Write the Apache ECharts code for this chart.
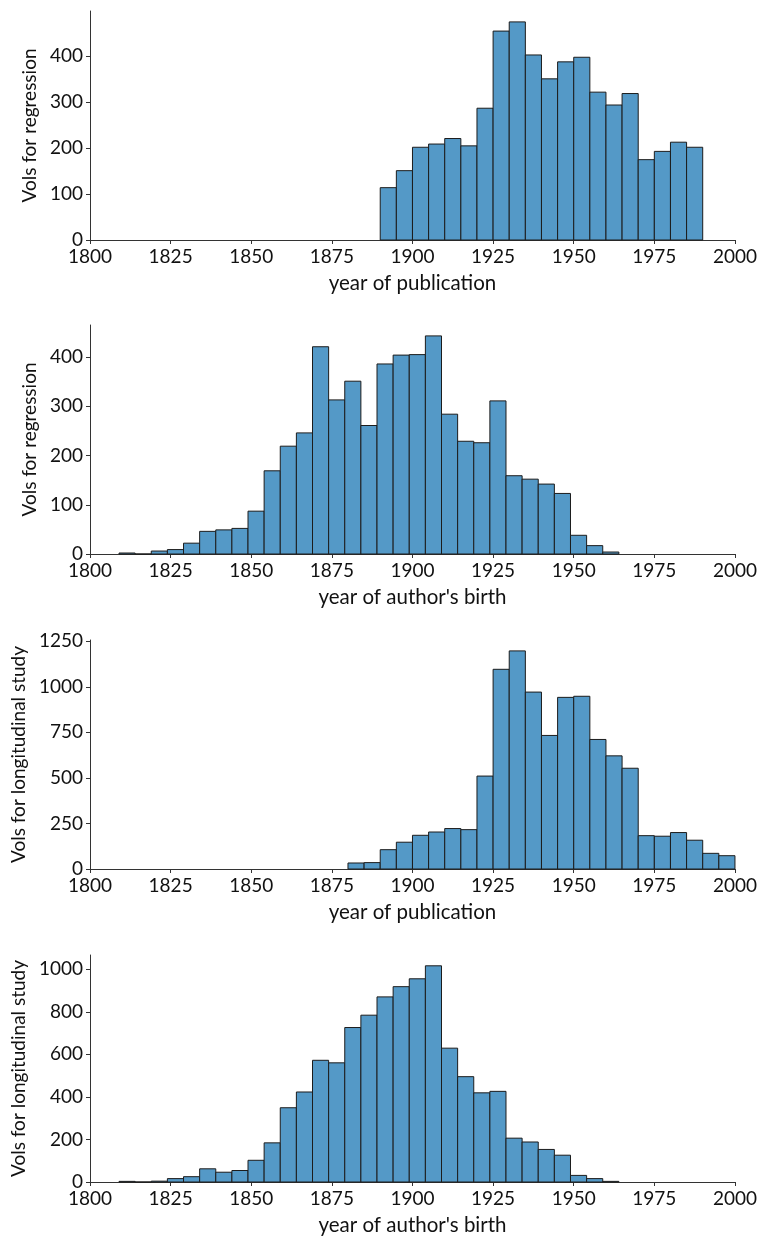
<!DOCTYPE html>
<html>
<head>
<meta charset="utf-8">
<script src="https://cdn.jsdelivr.net/npm/echarts@6/dist/echarts.min.js"></script>
<style>
  html, body { margin: 0; padding: 0; background: #fff; }
  #chart { width: 760px; height: 1237px; }
</style>
</head>
<body>
<div id="chart"></div>
<script>
// ---- data ----
const binWidth = 5;
const xTicks = [1800, 1825, 1850, 1875, 1900, 1925, 1950, 1975, 2000];

// Panel 1: year of publication (regression)
const pubRegBins = [1890,1895,1900,1905,1910,1915,1920,1925,1930,1935,1940,1945,1950,1955,1960,1965,1970,1975,1980,1985];
const pubRegCounts = [114,151,202,209,221,205,287,455,475,403,351,388,398,322,294,319,175,193,213,202];
const pubRegYTicks = [0,100,200,300,400];

// Panel 2: year of author's birth (regression)
const birthRegBins = [1809,1814,1819,1824,1829,1834,1839,1844,1849,1854,1859,1864,1869,1874,1879,1884,1889,1894,1899,1904,1909,1914,1919,1924,1929,1934,1939,1944,1949,1954,1959];
const birthRegCounts = [2,0,6,9,22,46,49,52,87,169,219,246,421,313,351,261,386,404,405,443,284,229,226,311,159,152,142,123,38,17,4];
const birthRegYTicks = [0,100,200,300,400];

// Panel 3: year of publication (longitudinal)
const pubLongBins = [1880,1885,1890,1895,1900,1905,1910,1915,1920,1925,1930,1935,1940,1945,1950,1955,1960,1965,1970,1975,1980,1985,1990,1995];
const pubLongCounts = [33,35,106,147,185,203,222,216,510,1096,1197,971,733,942,948,711,621,553,183,180,200,158,86,73];
const pubLongYTicks = [0,250,500,750,1000,1250];

// Panel 4: year of author's birth (longitudinal)
const birthLongBins = [1809,1814,1819,1824,1829,1834,1839,1844,1849,1854,1859,1864,1869,1874,1879,1884,1889,1894,1899,1904,1909,1914,1919,1924,1929,1934,1939,1944,1949,1954,1959];
const birthLongCounts = [3,0,4,16,25,62,46,54,102,184,349,423,572,560,726,784,870,918,955,1016,629,495,419,426,206,188,153,126,31,16,3];
const birthLongYTicks = [0,200,400,600,800,1000];

const panels = [
  { bins: pubRegBins, counts: pubRegCounts, yTicks: pubRegYTicks, yName: 'Vols for regression', xName: 'year of publication' },
  { bins: birthRegBins, counts: birthRegCounts, yTicks: birthRegYTicks, yName: 'Vols for regression', xName: "year of author's birth" },
  { bins: pubLongBins, counts: pubLongCounts, yTicks: pubLongYTicks, yName: 'Vols for longitudinal study', xName: 'year of publication' },
  { bins: birthLongBins, counts: birthLongCounts, yTicks: birthLongYTicks, yName: 'Vols for longitudinal study', xName: "year of author's birth" }
];

// ---- layout ----
const FONT = 'Lato';
const gridTops = [11, 325, 640, 955];
const gridH = 229;
const nameGaps = [45, 45, 57, 57];

const grid = [], xAxis = [], yAxis = [], series = [];
panels.forEach((p, i) => {
  const maxCount = Math.max.apply(null, p.counts);
  grid.push({ left: 90, width: 645, top: gridTops[i], height: gridH, containLabel: false });
  xAxis.push({
    type: 'value', gridIndex: i, min: 1800, max: 2000, interval: 25,
    name: p.xName, nameLocation: 'middle', nameGap: 33,
    nameTextStyle: { fontFamily: FONT, fontSize: 20.5, color: '#111' },
    axisLine: { show: true, lineStyle: { color: '#333', width: 1 } },
    axisTick: { show: true, length: 4, lineStyle: { color: '#333' } },
    axisLabel: { fontFamily: FONT, fontSize: 19, color: '#111', margin: 7, formatter: v => String(v) },
    splitLine: { show: false }
  });
  yAxis.push({
    type: 'value', gridIndex: i, min: 0, max: maxCount * 1.05,
    name: p.yName, nameLocation: 'middle', nameGap: nameGaps[i], nameRotate: 90,
    nameTextStyle: { fontFamily: FONT, fontSize: 19, color: '#111' },
    axisLine: { show: true, lineStyle: { color: '#333', width: 1 } },
    axisTick: { show: true, length: 4, lineStyle: { color: '#333' }, customValues: p.yTicks },
    axisLabel: { fontFamily: FONT, fontSize: 19, color: '#111', margin: 7, customValues: p.yTicks, formatter: v => String(v) },
    splitLine: { show: false }
  });
  series.push({
    type: 'custom', xAxisIndex: i, yAxisIndex: i,
    data: p.bins.map((b, k) => [b, p.counts[k]]),
    encode: { x: 0, y: 1 },
    clip: false,
    renderItem: function (params, api) {
      const x0 = api.value(0), c = api.value(1);
      const pa = api.coord([x0, 0]);
      const pb = api.coord([x0 + binWidth, c]);
      return {
        type: 'rect',
        shape: { x: pa[0], y: pb[1], width: pb[0] - pa[0], height: pa[1] - pb[1] },
        style: { fill: '#5499c7', stroke: '#1c1c1c', lineWidth: 1 }
      };
    }
  });
});

const chart = echarts.init(document.getElementById('chart'), null, { renderer: 'canvas' });
chart.setOption({
  animation: false,
  backgroundColor: '#fff',
  grid, xAxis, yAxis, series
});
</script>
</body>
</html>
